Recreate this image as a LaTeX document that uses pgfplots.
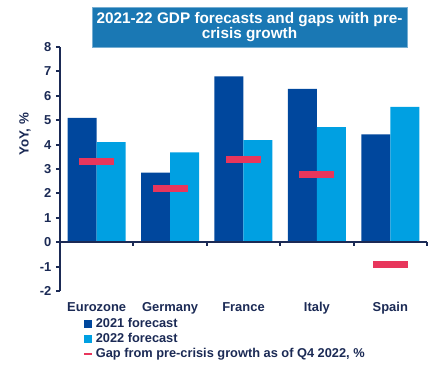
\documentclass[border=0pt]{standalone}
\usepackage{pgfplots}
\pgfplotsset{compat=1.18}
\usepackage{fontspec}
\setmainfont{Liberation Sans}
\definecolor{dblue}{HTML}{00479D}
\definecolor{lblue}{HTML}{00A0E2}
\definecolor{gapred}{HTML}{E8365C}
\definecolor{navy}{HTML}{1B2A55}
\definecolor{titlebox}{HTML}{1A78B4}
\begin{document}
\begin{tikzpicture}
\path[use as bounding box] (0pt,0pt) rectangle (330pt,-274.5pt);
\begin{axis}[
  at={(45pt,-218.25pt)}, anchor=south west,
  scale only axis, width=275.25pt, height=183pt,
  xmin=-0.5, xmax=4.5, ymin=-2, ymax=8,
  axis y line=left, axis x line=bottom,
  y axis line style={-, navy, line width=1.5pt},
  x axis line style={draw=none},
  ytick={-2,-1,0,1,2,3,4,5,6,7,8},
  xtick={0,1,2,3,4},
  xticklabels={Eurozone,Germany,France,Italy,Spain},
  xtick style={draw=none},
  ytick style={navy, line width=1.5pt},
  tick align=outside, major tick length=3pt,
  /pgf/number format/assume math mode=true,
  ticklabel style={font=\bfseries\fontsize{9.7}{11}\selectfont, text=navy},
  xticklabel style={yshift=-2pt},
  ylabel={YoY, \%},
  ylabel style={font=\bfseries\fontsize{10}{12}\selectfont, text=navy, at={(axis description cs:-0.095,0.643)}, anchor=center},
  legend cell align=left,
  legend style={draw=none, fill=none, at={(axis description cs:0.062,-0.1)}, anchor=north west,
    font=\bfseries\fontsize{9.6}{10.5}\selectfont, text=navy, inner sep=0pt, row sep=-1.2pt,
    /tikz/every even column/.append style={column sep=1pt}},
  clip=false,
]
\addplot[ybar, bar width=21.75pt, bar shift=-10.875pt, fill=dblue, draw=none,
  legend image code/.code={\fill[dblue] (0pt,-2.7pt) rectangle (5.4pt,2.7pt);}]
  coordinates {(0,5.1) (1,2.85) (2,6.8) (3,6.28) (4,4.42)};
\addlegendentry{2021 forecast}
\addplot[ybar, bar width=21.75pt, bar shift=10.875pt, fill=lblue, draw=none,
  legend image code/.code={\fill[lblue] (0pt,-2.7pt) rectangle (5.4pt,2.7pt);}]
  coordinates {(0,4.1) (1,3.68) (2,4.18) (3,4.72) (4,5.55)};
\addlegendentry{2022 forecast}
\addplot[only marks, mark=-, mark size=13.1pt, color=gapred,
  mark options={line width=5.25pt, line cap=butt},
  legend image code/.code={\draw[gapred, line width=2.2pt] (0pt,0pt) -- (5.4pt,0pt);}]
  coordinates {(0,3.32) (1,2.2) (2,3.38) (3,2.78) (4,-0.93)};
\addlegendentry{Gap from pre-crisis growth as of Q4 2022, \%}
\draw[navy, line width=1.5pt] (axis cs:-0.5,0) -- (axis cs:4.5,0);
\pgfplotsinvokeforeach{0.5,1.5,2.5,3.5,4.5}{
  \draw[navy, line width=1.5pt] (axis cs:#1,0) -- ++(0pt,-3pt);
}
\end{axis}
\node[fill=titlebox, draw=titlebox!60!white, line width=0.6pt, text=white,
  font=\bfseries\fontsize{11.5}{11.5}\selectfont, align=center,
  minimum width=236.25pt, minimum height=30pt, inner sep=0pt]
  at (187.1pt,-20.25pt) {2021-22 GDP forecasts and gaps with pre-\\crisis growth};
\end{tikzpicture}
\end{document}
